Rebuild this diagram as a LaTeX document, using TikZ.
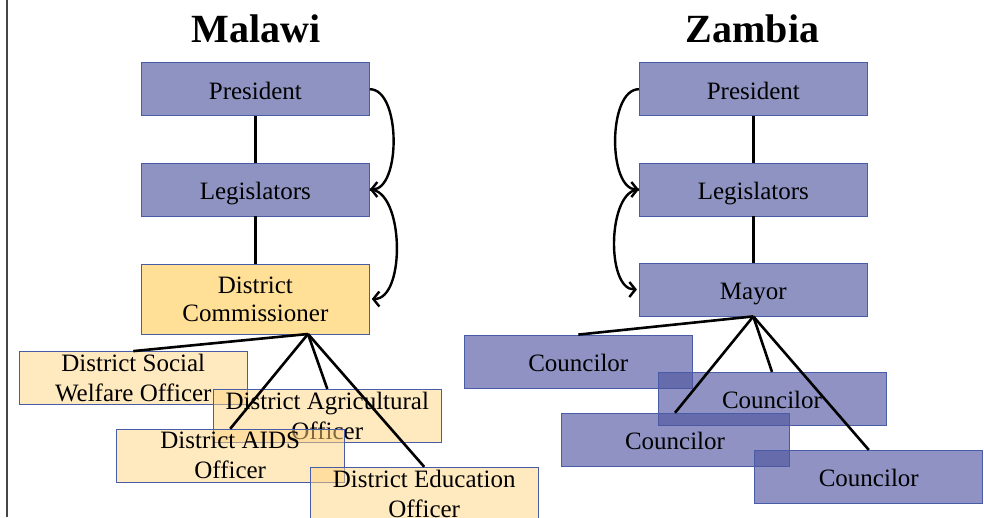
\documentclass[tikz,border=0pt]{standalone}
\usepackage{fontspec}
\setmainfont{Liberation Serif}
\usetikzlibrary{arrows.meta}
\definecolor{boxblue}{RGB}{143,147,194}
\definecolor{boxblueT}{RGB}{80,86,160}
\definecolor{edgeblue}{RGB}{72,92,168}
\definecolor{dcgold}{RGB}{255,224,150}
\definecolor{offgold}{RGB}{255,213,129}
\definecolor{framegray}{RGB}{70,70,70}
\begin{document}
\begin{tikzpicture}[x=1pt,y=-1pt,
  box/.style={draw=edgeblue,line width=0.8pt,minimum width=228pt,minimum height=53pt,
    inner sep=0pt,font=\fontsize{25}{30}\selectfont,align=center},
  oneline/.style={execute at begin node={\rule[-6pt]{0pt}{32pt}}},
  topbox/.style={box,oneline,fill=boxblue},
  goldbox/.style={box,fill=dcgold,minimum height=70pt,font=\fontsize{25}{28}\selectfont,
    execute at begin node={\rule{0pt}{20pt}}},
  officer/.style={box,fill=offgold,fill opacity=0.5,text opacity=1,
    execute at begin node={\rule{0pt}{21pt}}},
  council/.style={box,oneline,fill=boxblueT,fill opacity=0.64,text opacity=1},
  title/.style={anchor=base,font=\fontsize{40}{48}\selectfont\bfseries},
  link/.style={line width=2.6pt,black},
  arr/.style={line width=2.4pt,black,-{Straight Barb[length=6pt,width=15pt]},looseness=0.8}
]
\useasboundingbox (0,0) rectangle (984,517);
\fill[white] (0,0) rectangle (984,517);
\draw[framegray,line width=2pt] (6.5,0) -- (6.5,517);

% Titles
\node[title] (tmal) at (256,42) {Malawi};
\node[title] (tzam) at (752.5,42) {Zambia};

% Malawi
\node[topbox] (mp) at (255.4,89.2) {President};
\node[topbox] (ml) at (255.4,189.5) {Legislators};
\node[goldbox] (dc) at (255.4,299) {District\\Commissioner};
\coordinate (dcapex) at (308,334);

\node[officer] (soc) at (133.3,378) {District Social\\Welfare Officer};
\node[officer] (agr) at (327.3,415.8) {District Agricultural\\Officer};
\node[officer] (aids) at (230.2,455.7) {District AIDS\\Officer};
\node[officer] (edu) at (424.2,493.7) {District Education\\Officer};

\draw[link] (mp.south) -- (ml.north);
\draw[link] (ml.south) -- (dc.north);
\draw[link] (dcapex) -- (soc.north);
\draw[link] (dcapex) -- (agr.north);
\draw[link] (dcapex) -- (aids.north);
\draw[link] (dcapex) -- (edu.north);

\draw[arr] (mp.east) to[out=0,in=0] (ml.east);
\draw[arr] (ml.east) to[out=0,in=0] ([xshift=2pt]dc.east);

% Zambia
\node[topbox] (zp) at (753.3,89.2) {President};
\node[topbox] (zl) at (753.3,189.5) {Legislators};
\node[topbox] (zm) at (753.3,289.5) {Mayor};

\node[council] (c1) at (578.3,361.5) {Councilor};
\node[council] (c2) at (772,398.8) {Councilor};
\node[council] (c3) at (675,439.7) {Councilor};
\node[council] (c4) at (868.8,476.8) {Councilor};

\draw[link] (zp.south) -- (zl.north);
\draw[link] (zl.south) -- (zm.north);
\draw[link] (zm.south) -- (c1.north);
\draw[link] (zm.south) -- (c2.north);
\draw[link] (zm.south) -- (c3.north);
\draw[link] (zm.south) -- (c4.north);

\draw[arr] (zp.west) to[out=180,in=180] (zl.west);
\draw[arr] (zl.west) to[out=180,in=180] ([xshift=-2pt]zm.west);
\end{tikzpicture}
\end{document}
